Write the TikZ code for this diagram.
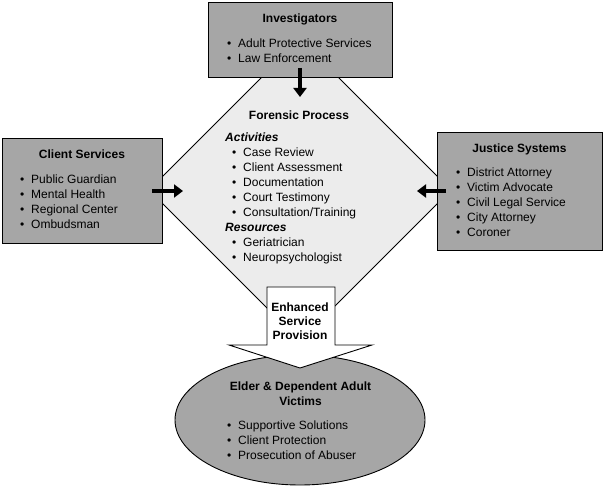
\documentclass[tikz,border=0pt]{standalone}
\usepackage{fontspec}
\setmainfont{Liberation Sans}
\usetikzlibrary{arrows.meta,shapes.geometric}
\definecolor{boxgray}{RGB}{166,166,166}
\definecolor{diagray}{RGB}{236,236,236}
\newcommand\bitem[1]{\llap{\textbullet\hspace{6.9pt}}#1}
\tikzset{
  txt/.style={anchor=base west, inner sep=0pt, font=\fontsize{12}{14}\selectfont},
  ttl/.style={anchor=base, inner sep=0pt, font=\fontsize{12}{14}\selectfont\bfseries},
  sub/.style={anchor=base west, inner sep=0pt, font=\fontsize{12}{14}\selectfont\bfseries\itshape},
  graybox/.style={draw=black, line width=0.9pt, fill=boxgray},
  fatarrow/.style={line width=4.5pt, -{Triangle[length=9pt,width=13pt]}}
}
\begin{document}
\begin{tikzpicture}[x=1pt,y=-1pt]
\useasboundingbox (0,0) rectangle (603,489);
% diamond
\draw[line width=0.9pt, fill=diagray] (300,39) -- (451,190) -- (300,341) -- (149,190) -- cycle;
\coordinate (dtop) at (300,39);
% boxes
\path[graybox] (208,2) rectangle (392,77);
\node (invbox) at (300,39.5) [minimum width=184pt, minimum height=75pt, inner sep=0pt] {};
\path[graybox] (2,138) rectangle (162,243);
\node (clibox) at (82,190.5) [minimum width=160pt, minimum height=105pt, inner sep=0pt] {};
\path[graybox] (437,132) rectangle (602,250);
\node (jusbox) at (519.5,191) [minimum width=165pt, minimum height=118pt, inner sep=0pt] {};
% ellipse
\node (eld) at (300,420) [ellipse, draw=black, line width=0.9pt, fill=boxgray, minimum width=250pt, minimum height=130pt, inner sep=0pt] {};
% block arrow
\draw[line width=0.9pt, fill=white] (267,287) -- (335,287) -- (335,345) -- (372,345) -- (300,368) -- (229,345) -- (267,345) -- cycle;
% thick arrows
\coordinate (a1s) at (300,68); \coordinate (a1e) at (300,97);
\coordinate (a2s) at (152,191); \coordinate (a2e) at (183,191);
\coordinate (a3s) at (446,191); \coordinate (a3e) at (417,191);
\draw[fatarrow] (a1s) -- (a1e);
\draw[fatarrow] (a2s) -- (a2e);
\draw[fatarrow] (a3s) -- (a3e);
% Investigators
\node[ttl] (t1) at (300,23) {Investigators};
\node[txt] (i1) at (238,48) {\bitem{Adult Protective Services}};
\node[txt] (i2) at (238,63) {\bitem{Law Enforcement}};
% Client services
\node[ttl] (t2) at (82,159) {Client Services};
\node[txt] (c1) at (31,184) {\bitem{Public Guardian}};
\node[txt] (c2) at (31,199) {\bitem{Mental Health}};
\node[txt] (c3) at (31,214) {\bitem{Regional Center}};
\node[txt] (c4) at (31,229) {\bitem{Ombudsman}};
% Justice systems
\node[ttl] (t3) at (519.5,153) {Justice Systems};
\node[txt] (j1) at (467,177) {\bitem{District Attorney}};
\node[txt] (j2) at (467,192) {\bitem{Victim Advocate}};
\node[txt] (j3) at (467,207) {\bitem{Civil Legal Service}};
\node[txt] (j4) at (467,222) {\bitem{City Attorney}};
\node[txt] (j5) at (467,237) {\bitem{Coroner}};
% Forensic process
\node[ttl] (t4) at (299,120) {Forensic Process};
\node[sub] (f0) at (225,142) {Activities};
\node[txt] (f1) at (243,157) {\bitem{Case Review}};
\node[txt] (f2) at (243,172) {\bitem{Client Assessment}};
\node[txt] (f3) at (243,187) {\bitem{Documentation}};
\node[txt] (f4) at (243,202) {\bitem{Court Testimony}};
\node[txt] (f5) at (243,217) {\bitem{Consultation/Training}};
\node[sub] (r0) at (225,232) {Resources};
\node[txt] (r1) at (243,247) {\bitem{Geriatrician}};
\node[txt] (r2) at (243,261.5) {\bitem{Neuropsychologist}};
% Enhanced
\node[ttl] (e1) at (300,312) {Enhanced};
\node[ttl] (e2) at (300,326) {Service};
\node[ttl] (e3) at (300,340) {Provision};
% Elder
\node[ttl] (v0) at (300.5,391) {Elder \& Dependent Adult};
\node[ttl] (v1) at (300.5,405) {Victims};
\node[txt] (v2) at (238,429) {\bitem{Supportive Solutions}};
\node[txt] (v3) at (238,444) {\bitem{Client Protection}};
\node[txt] (v4) at (238,459) {\bitem{Prosecution of Abuser}};
\end{tikzpicture}
\end{document}
